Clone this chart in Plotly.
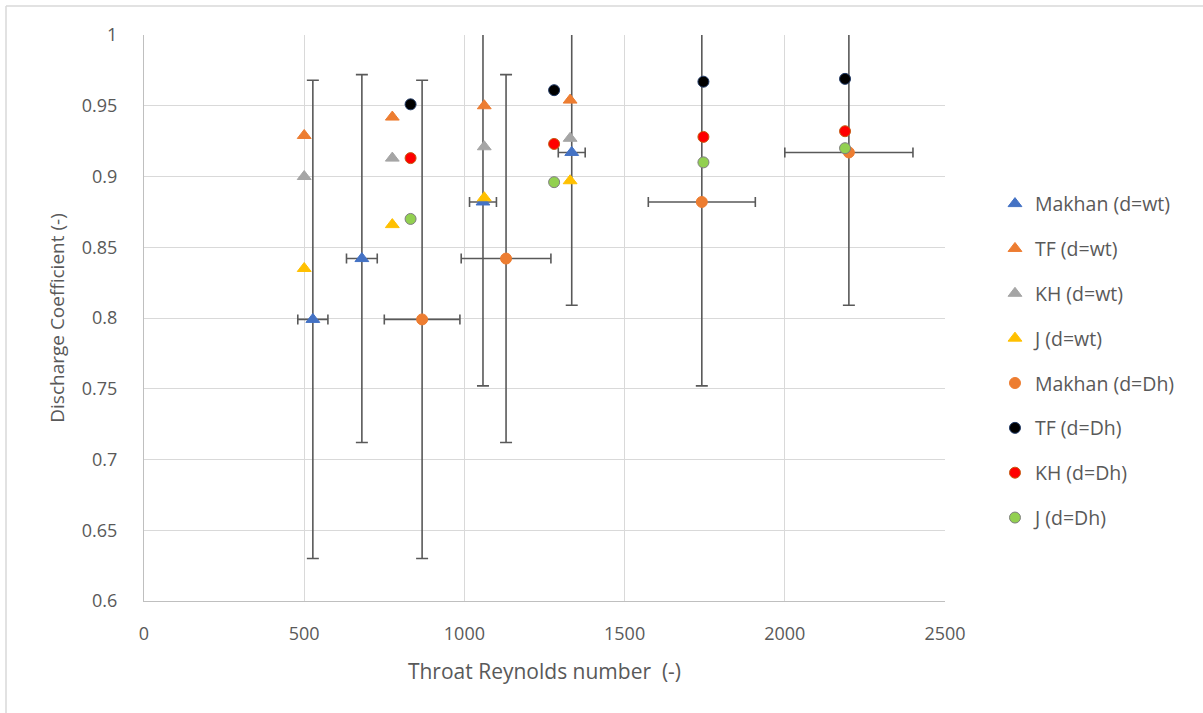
import plotly.graph_objects as go

# ---- data ----
makhan_wt_x = [527, 680, 1058, 1335]
makhan_wt_y = [0.799, 0.842, 0.882, 0.917]
makhan_wt_xerr = [47, 48, 42, 42]
makhan_wt_yerr_plus = [0.169, 0.130, 0.130, 0.108]
makhan_wt_yerr_minus = [0.169, 0.130, 0.130, 0.108]

tf_wt_x = [500, 775, 1062, 1330]
tf_wt_y = [0.929, 0.942, 0.950, 0.954]

kh_wt_x = [500, 775, 1062, 1330]
kh_wt_y = [0.900, 0.913, 0.921, 0.927]

j_wt_x = [500, 775, 1062, 1330]
j_wt_y = [0.835, 0.866, 0.885, 0.897]

makhan_dh_x = [868, 1130, 1741, 2200]
makhan_dh_y = [0.799, 0.842, 0.882, 0.917]
makhan_dh_xerr = [118, 140, 167, 200]
makhan_dh_yerr = [0.169, 0.130, 0.130, 0.108]

tf_dh_x = [832, 1280, 1746, 2188]
tf_dh_y = [0.951, 0.961, 0.967, 0.969]

kh_dh_x = [832, 1280, 1746, 2188]
kh_dh_y = [0.913, 0.923, 0.928, 0.932]

j_dh_x = [832, 1280, 1746, 2188]
j_dh_y = [0.870, 0.896, 0.910, 0.920]

x_ticks = [0, 500, 1000, 1500, 2000, 2500]
y_ticks = [0.6, 0.65, 0.7, 0.75, 0.8, 0.85, 0.9, 0.95, 1.0]
y_tick_text = ["0.6", "0.65", "0.7", "0.75", "0.8", "0.85", "0.9", "0.95", "1"]

ERR_COLOR = "#595959"
FONT = "Open Sans"
TEXT_COLOR = "#595959"

fig = go.Figure()


def add(name, x, y, symbol, color, line_color, size, xerr=None, yerr=None, yerr_minus=None):
    kw = {}
    if xerr is not None:
        kw["error_x"] = dict(type="data", array=xerr, visible=True, color=ERR_COLOR,
                             thickness=1.6, width=5)
    if yerr is not None:
        kw["error_y"] = dict(type="data", array=yerr,
                             arrayminus=yerr_minus if yerr_minus is not None else yerr,
                             symmetric=False, visible=True, color=ERR_COLOR,
                             thickness=1.6, width=6)
    fig.add_trace(go.Scatter(
        x=x, y=y, mode="markers", name=name, legendgroup=name,
        marker=dict(symbol=symbol, color=color, size=size,
                    line=dict(color=line_color, width=1)),
        **kw))


add("Makhan (d=wt)", makhan_wt_x, makhan_wt_y, "triangle-up", "#4472C4", "#4472C4", 12,
    xerr=makhan_wt_xerr, yerr=makhan_wt_yerr_plus, yerr_minus=makhan_wt_yerr_minus)
add("TF (d=wt)", tf_wt_x, tf_wt_y, "triangle-up", "#ED7D31", "#ED7D31", 12)
add("KH (d=wt)", kh_wt_x, kh_wt_y, "triangle-up", "#A5A5A5", "#A5A5A5", 12)
add("J (d=wt)", j_wt_x, j_wt_y, "triangle-up", "#FFC000", "#FFC000", 12)
add("Makhan (d=Dh)", makhan_dh_x, makhan_dh_y, "circle", "#ED7D31", "#ED7D31", 11,
    xerr=makhan_dh_xerr, yerr=makhan_dh_yerr)
add("TF (d=Dh)", tf_dh_x, tf_dh_y, "circle", "#000000", "#1F3864", 11)
add("KH (d=Dh)", kh_dh_x, kh_dh_y, "circle", "#FF0000", "#C55A11", 11)
add("J (d=Dh)", j_dh_x, j_dh_y, "circle", "#92D050", "#7F7F7F", 11)

fig.update_layout(
    width=1203, height=713,
    margin=dict(l=144, r=258, t=35, b=112),
    paper_bgcolor="white", plot_bgcolor="white",
    font=dict(family=FONT, size=18, color=TEXT_COLOR),
    showlegend=True,
    legend=dict(x=1.0624, y=0.736, xanchor="left", yanchor="top",
                font=dict(family=FONT, size=19.5, color=TEXT_COLOR),
                tracegroupgap=16.5, itemwidth=30, bgcolor="rgba(0,0,0,0)"),
    xaxis=dict(range=[0, 2500], tickvals=x_ticks, showgrid=True, gridcolor="#D9D9D9",
               gridwidth=1, zeroline=False, showline=True, linecolor="#BFBFBF",
               linewidth=1, ticks="", ticklabelstandoff=16,
               tickfont=dict(family=FONT, size=18, color=TEXT_COLOR),
               title=dict(text="Throat Reynolds number  (-)", standoff=20,
                          font=dict(family=FONT, size=21, color=TEXT_COLOR))),
    yaxis=dict(range=[0.6, 1.0], tickvals=y_ticks, ticktext=y_tick_text, showgrid=True,
               gridcolor="#D9D9D9", gridwidth=1, zeroline=False, showline=True,
               linecolor="#BFBFBF", linewidth=1, ticks="", ticklabelstandoff=22,
               tickfont=dict(family=FONT, size=18, color=TEXT_COLOR),
               title=dict(text="Discharge Coefficient (-)", standoff=12,
                          font=dict(family=FONT, size=19, color=TEXT_COLOR))),
)

# outer chart frame (top and left edges visible)
fig.add_shape(type="line", xref="paper", yref="paper",
              x0=(6 - 144) / 801, x1=(1203 - 144) / 801,
              y0=(601 - 6) / 566, y1=(601 - 6) / 566,
              line=dict(color="#D9D9D9", width=1.5))
fig.add_shape(type="line", xref="paper", yref="paper",
              x0=(6 - 144) / 801, x1=(6 - 144) / 801,
              y0=(601 - 6) / 566, y1=(601 - 713) / 566,
              line=dict(color="#D9D9D9", width=1.5))

fig.write_html("out.html")
